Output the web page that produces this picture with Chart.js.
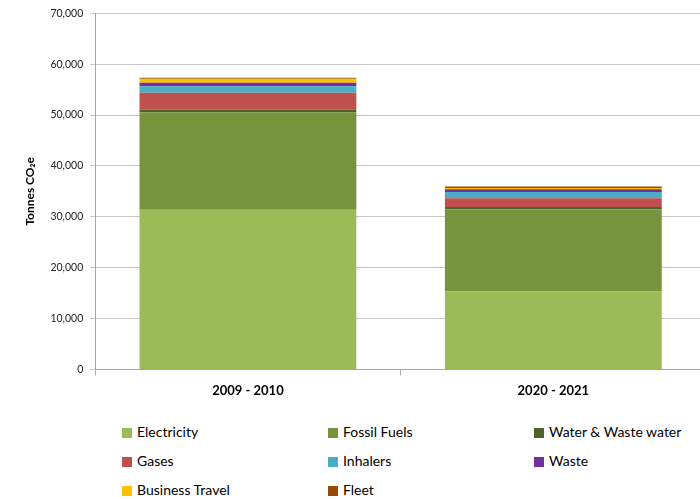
<!DOCTYPE html>
<html>
<head>
<meta charset="utf-8">
<script src="https://cdn.jsdelivr.net/npm/chart.js@4"></script>
<style>
  html, body { margin: 0; padding: 0; width: 700px; height: 499px; overflow: hidden; background: #fff; }
  #wrap { position: absolute; left: 0; top: 0; width: 706px; height: 407px; }
  #legend { position: absolute; left: 0; top: 422px; width: 700px; font-family: Lato, "Liberation Sans", sans-serif; font-size: 14px; color: #000; }
  .item { position: absolute; height: 20px; line-height: 20px; white-space: nowrap; }
  .box { display: inline-block; width: 10px; height: 10px; margin-right: 5px; vertical-align: -1px; }
</style>
</head>
<body>
<div id="wrap"><canvas id="chart"></canvas></div>
<div id="legend"></div>
<script>
const periods = ['2009 - 2010', '2020 - 2021'];
const sources = ['Electricity', 'Fossil Fuels', 'Water & Waste water', 'Gases', 'Inhalers', 'Waste', 'Business Travel', 'Fleet'];
const colours = ['#9BBB59', '#77933C', '#4F6228', '#C0504D', '#4BACC6', '#7030A0', '#FFC000', '#984807'];

const electricity = [31400, 15380];
const fossilFuels = [19140, 16100];
const water = [530, 450];
const gases = [3290, 1720];
const inhalers = [1310, 1240];
const waste = [670, 530];
const businessTravel = [780, 260];
const fleet = [200, 260];

const values = [electricity, fossilFuels, water, gases, inhalers, waste, businessTravel, fleet];

const font = 'Lato, "Liberation Sans", sans-serif';

new Chart(document.getElementById('chart'), {
  type: 'bar',
  data: {
    labels: periods,
    datasets: sources.map((name, i) => ({
      label: name,
      data: values[i],
      backgroundColor: colours[i],
      borderWidth: 0,
      categoryPercentage: 0.71,
      barPercentage: 1,
    })),
  },
  options: {
    responsive: true,
    maintainAspectRatio: false,
    animation: false,
    layout: { padding: { top: 8, left: 23, right: 0, bottom: 0 } },
    plugins: { legend: { display: false }, tooltip: { enabled: false } },
    scales: {
      x: {
        stacked: true,
        grid: { drawOnChartArea: false, color: '#a6a6a6', tickLength: 6 },
        border: { color: '#a6a6a6' },
        ticks: { color: '#000', font: { family: font, size: 13, weight: 'bold' }, padding: 8 },
      },
      y: {
        stacked: true,
        min: 0,
        max: 70000,
        grid: { color: '#c6c6c6', tickLength: 5 },
        border: { color: '#a6a6a6' },
        ticks: {
          stepSize: 10000,
          color: '#222',
          font: { family: font, size: 10.5 },
          padding: 7,
          callback: (v) => v.toLocaleString('en-US'),
        },
        title: {
          display: true,
          text: 'Tonnes CO₂e',
          color: '#000',
          font: { family: font, size: 12, weight: 'bold' },
          padding: { top: 0, bottom: 6 },
        },
      },
    },
  },
});

const cols = [122, 328, 534];
const rows = [422, 451, 480];
document.getElementById('legend').innerHTML = sources
  .map((name, i) => `<div class="item" style="left:${cols[i % 3]}px;top:${rows[Math.floor(i / 3)] - 422}px"><span class="box" style="background:${colours[i]}"></span>${name}</div>`)
  .join('');
</script>
</body>
</html>
